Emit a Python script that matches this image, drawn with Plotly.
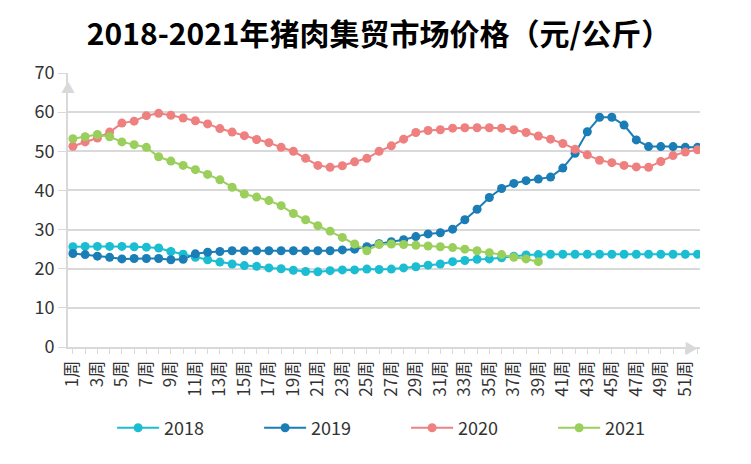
import plotly.graph_objects as go

# weeks 1..52, labels shown every other week
weeks = list(range(1, 53))
tick_weeks = list(range(1, 53, 2))
tick_labels = [f"{w}周" for w in tick_weeks]

price_2018 = [25.6, 25.7, 25.7, 25.7, 25.7, 25.6, 25.5, 25.3, 24.4, 23.7,
              22.9, 22.3, 21.7, 21.2, 20.8, 20.6, 20.2, 20.0, 19.6, 19.3,
              19.2, 19.5, 19.7, 19.7, 19.9, 19.8, 19.9, 20.2, 20.5, 20.9,
              21.2, 21.8, 22.1, 22.4, 22.5, 22.8, 23.2, 23.5, 23.6, 23.7,
              23.7, 23.7, 23.7, 23.7, 23.7, 23.7, 23.7, 23.7, 23.7, 23.7,
              23.7, 23.7]
price_2019 = [23.9, 23.6, 23.2, 22.9, 22.5, 22.6, 22.6, 22.6, 22.3, 22.4,
              23.8, 24.2, 24.4, 24.6, 24.6, 24.6, 24.6, 24.6, 24.6, 24.6,
              24.6, 24.6, 24.8, 25.0, 25.6, 26.4, 26.9, 27.4, 28.2, 28.9,
              29.2, 30.1, 32.5, 35.2, 38.2, 40.5, 41.8, 42.5, 42.9, 43.4,
              45.7, 49.5, 55.0, 58.7, 58.7, 56.7, 52.9, 51.2, 51.2, 51.2,
              51.0, 51.0]
price_2020 = [51.3, 52.4, 53.4, 54.9, 57.2, 57.7, 59.1, 59.7, 59.2, 58.5,
              57.8, 57.0, 55.8, 54.9, 54.0, 53.0, 52.2, 51.0, 50.0, 48.2,
              46.4, 45.9, 46.3, 47.3, 48.2, 50.0, 51.4, 53.1, 54.8, 55.3,
              55.5, 55.9, 56.0, 56.0, 56.0, 55.9, 55.5, 54.8, 53.9, 53.1,
              52.0, 50.5, 49.1, 47.7, 47.1, 46.4, 46.0, 45.9, 47.4, 48.9,
              49.8, 50.4]
price_2021 = [53.2, 53.7, 54.3, 53.7, 52.4, 51.7, 51.0, 48.6, 47.5, 46.4,
              45.3, 44.1, 42.7, 40.8, 39.1, 38.3, 37.4, 36.1, 34.1, 32.5,
              31.0, 29.6, 28.0, 26.3, 24.6, 26.2, 26.3, 26.2, 26.0, 25.8,
              25.6, 25.4, 25.0, 24.6, 24.1, 23.6, 22.9, 22.5, 21.8]

series = [
    ("2018", price_2018, "#1bbdd3"),
    ("2019", price_2019, "#1a7db5"),
    ("2020", price_2020, "#ee8080"),
    ("2021", price_2021, "#9acf5c"),
]

FONT = "Noto Sans CJK SC"
AXIS_GREY = "#d9d9d9"

fig = go.Figure()
for name, values, color in series:
    fig.add_trace(go.Scatter(
        x=weeks[:len(values)],
        y=values,
        name=name,
        mode="lines+markers",
        line=dict(color=color, width=2),
        marker=dict(color=color, size=9),
    ))

# the page adds an 8px body margin, so the figure is laid out 8px up/left
fig.update_layout(
    width=751,
    height=464,
    margin=dict(l=60, r=59, t=65, b=125),
    paper_bgcolor="white",
    plot_bgcolor="white",
    font=dict(family=FONT, color="#333333", size=16),
    title=dict(
        text="<b>2018-2021年猪肉集贸市场价格（元/公斤）</b>",
        x=0.494, xanchor="center", y=0.942, yanchor="middle",
        font=dict(family=FONT, size=30, color="black"),
    ),
    showlegend=True,
    legend=dict(
        orientation="h", x=0.535, xanchor="center", y=-0.296, yanchor="middle",
        font=dict(size=18, color="#333333"),
        entrywidth=90, itemwidth=42,
    ),
)

fig.update_xaxes(
    range=[0.6, 52.2],
    tickmode="array", tickvals=tick_weeks, ticktext=tick_labels,
    tickangle=-90, tickfont=dict(size=17, color="#333333"),
    showgrid=False, zeroline=False,
    showline=True, linecolor=AXIS_GREY, linewidth=2,
    ticks="outside", ticklen=5, tickcolor=AXIS_GREY,
    minor=dict(dtick=1, tick0=0, ticks="outside", ticklen=5, tickcolor=AXIS_GREY),
)
fig.update_yaxes(
    range=[0, 70], dtick=10,
    tickfont=dict(size=18, color="#333333"),
    showgrid=True, gridcolor=AXIS_GREY, gridwidth=2,
    zeroline=False,
    showline=True, linecolor=AXIS_GREY, linewidth=2,
    ticks="outside", ticklen=8, tickcolor=AXIS_GREY,
)

# axis arrow heads
fig.add_annotation(x=0, y=1, xref="paper", yref="paper", text="▲",
                   showarrow=False, font=dict(size=14, color=AXIS_GREY),
                   xanchor="center", yanchor="top", yshift=-2)
fig.add_annotation(x=1, y=0, xref="paper", yref="paper", text="▶",
                   showarrow=False, font=dict(size=14, color=AXIS_GREY),
                   xanchor="right", yanchor="middle")

fig.write_html("out.html")
